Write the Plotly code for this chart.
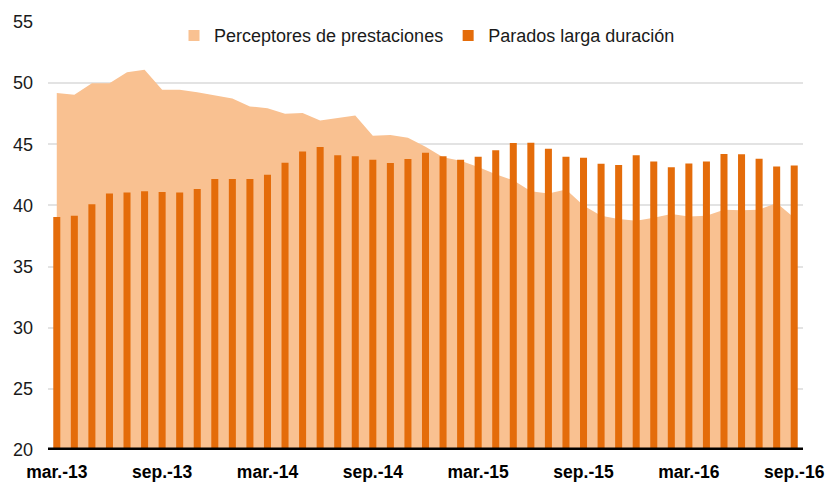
import plotly.graph_objects as go

# Monthly series, March 2013 to September 2016
meses = ["mar.", "abr.", "may.", "jun.", "jul.", "ago.", "sep.", "oct.", "nov.", "dic.", "ene.", "feb."]
months = []
yr = 13
for i in range(43):
    name = meses[i % 12]
    if name == "ene." and i > 0:
        yr += 1
    months.append(f"{name}-{yr}")

perceptores = [49.2, 49.05, 50.0, 50.0, 50.9, 51.1, 49.45, 49.45, 49.25, 49.0, 48.75,
               48.1, 47.95, 47.5, 47.56, 46.95, 47.15, 47.35, 45.7, 45.75, 45.54, 44.8,
               43.95, 43.65, 43.15, 42.55, 42.05, 41.15, 40.98, 41.3, 40.0, 39.15, 38.9,
               38.75, 39.0, 39.3, 39.1, 39.15, 39.65, 39.6, 39.65, 40.2, 39.0]

parados = [39.06, 39.16, 40.1, 40.97, 41.05, 41.16, 41.1, 41.05, 41.35, 42.17, 42.17,
           42.17, 42.5, 43.48, 44.41, 44.77, 44.11, 44.03, 43.73, 43.46, 43.79, 44.3,
           44.03, 43.73, 43.98, 44.52, 45.1, 45.12, 44.63, 43.98, 43.89, 43.4, 43.3,
           44.11, 43.59, 43.13, 43.43, 43.59, 44.2, 44.18, 43.81, 43.18, 43.26]

tick_labels = months[::6]
y_ticks = [20, 25, 30, 35, 40, 45, 50, 55]

AREA = "#F9C191"
BAR = "#E46C0A"
FONT = "Liberation Sans, Arial, sans-serif"

fig = go.Figure()
# shaded area (legend entry supplied by a square-marker key below)
fig.add_trace(go.Scatter(
    x=months, y=perceptores, name="Perceptores de prestaciones",
    mode="lines", line=dict(width=0, color=AREA),
    fill="tozeroy", fillcolor=AREA, xaxis="x", yaxis="y",
    showlegend=False, legendgroup="perc",
))
fig.add_trace(go.Scatter(
    x=[None], y=[None], name="Perceptores de prestaciones",
    mode="markers", marker=dict(symbol="square", size=11, color=AREA),
    xaxis="x", yaxis="y", legendgroup="perc",
))
fig.add_trace(go.Scatter(
    x=[None], y=[None], name="Parados larga duración",
    mode="markers", marker=dict(symbol="square", size=11, color=BAR),
    xaxis="x", yaxis="y", legendgroup="par",
))
# bars on an overlaid axis pair so they sit on top of the area
fig.add_trace(go.Bar(
    x=months, y=parados, name="Parados larga duración",
    marker=dict(color=BAR, line=dict(width=0)),
    xaxis="x2", yaxis="y2", showlegend=False, legendgroup="par",
))

fig.update_layout(
    width=829, height=482,
    margin=dict(l=48, r=26, t=22, b=32),
    paper_bgcolor="white", plot_bgcolor="white",
    font=dict(family=FONT, size=18, color="#1a1a1a"),
    bargap=0.6,
    showlegend=True,
    legend=dict(orientation="h", x=0.502, xanchor="center", y=0.968, yanchor="middle",
                font=dict(size=18), itemwidth=30, bgcolor="rgba(0,0,0,0)",
                traceorder="normal"),
    xaxis=dict(type="category", categoryorder="array", categoryarray=months,
               tickvals=tick_labels, ticktext=tick_labels, range=[-0.5, 42.5],
               showgrid=False, showline=False, ticks="", automargin=False,
               tickfont=dict(size=17.5, family=FONT, weight="bold", color="#000"),
               ticklabelstandoff=9),
    yaxis=dict(range=[20, 55], tickvals=y_ticks, showgrid=True, gridcolor="#e3e3e3",
               gridwidth=1.5, zeroline=False, showline=False, ticks="", automargin=False,
               tickfont=dict(size=18, color="#1a1a1a"), ticklabelstandoff=14),
    xaxis2=dict(type="category", categoryorder="array", categoryarray=months,
                overlaying="x", range=[-0.5, 42.5], visible=False),
    yaxis2=dict(range=[20, 55], overlaying="y", visible=False),
)

# Heavy baseline along the bottom of the value axis
fig.add_shape(type="line", xref="paper", yref="y", x0=0, x1=1, y0=20, y1=20,
              line=dict(color="black", width=5), layer="above")

fig.write_html("out.html")
